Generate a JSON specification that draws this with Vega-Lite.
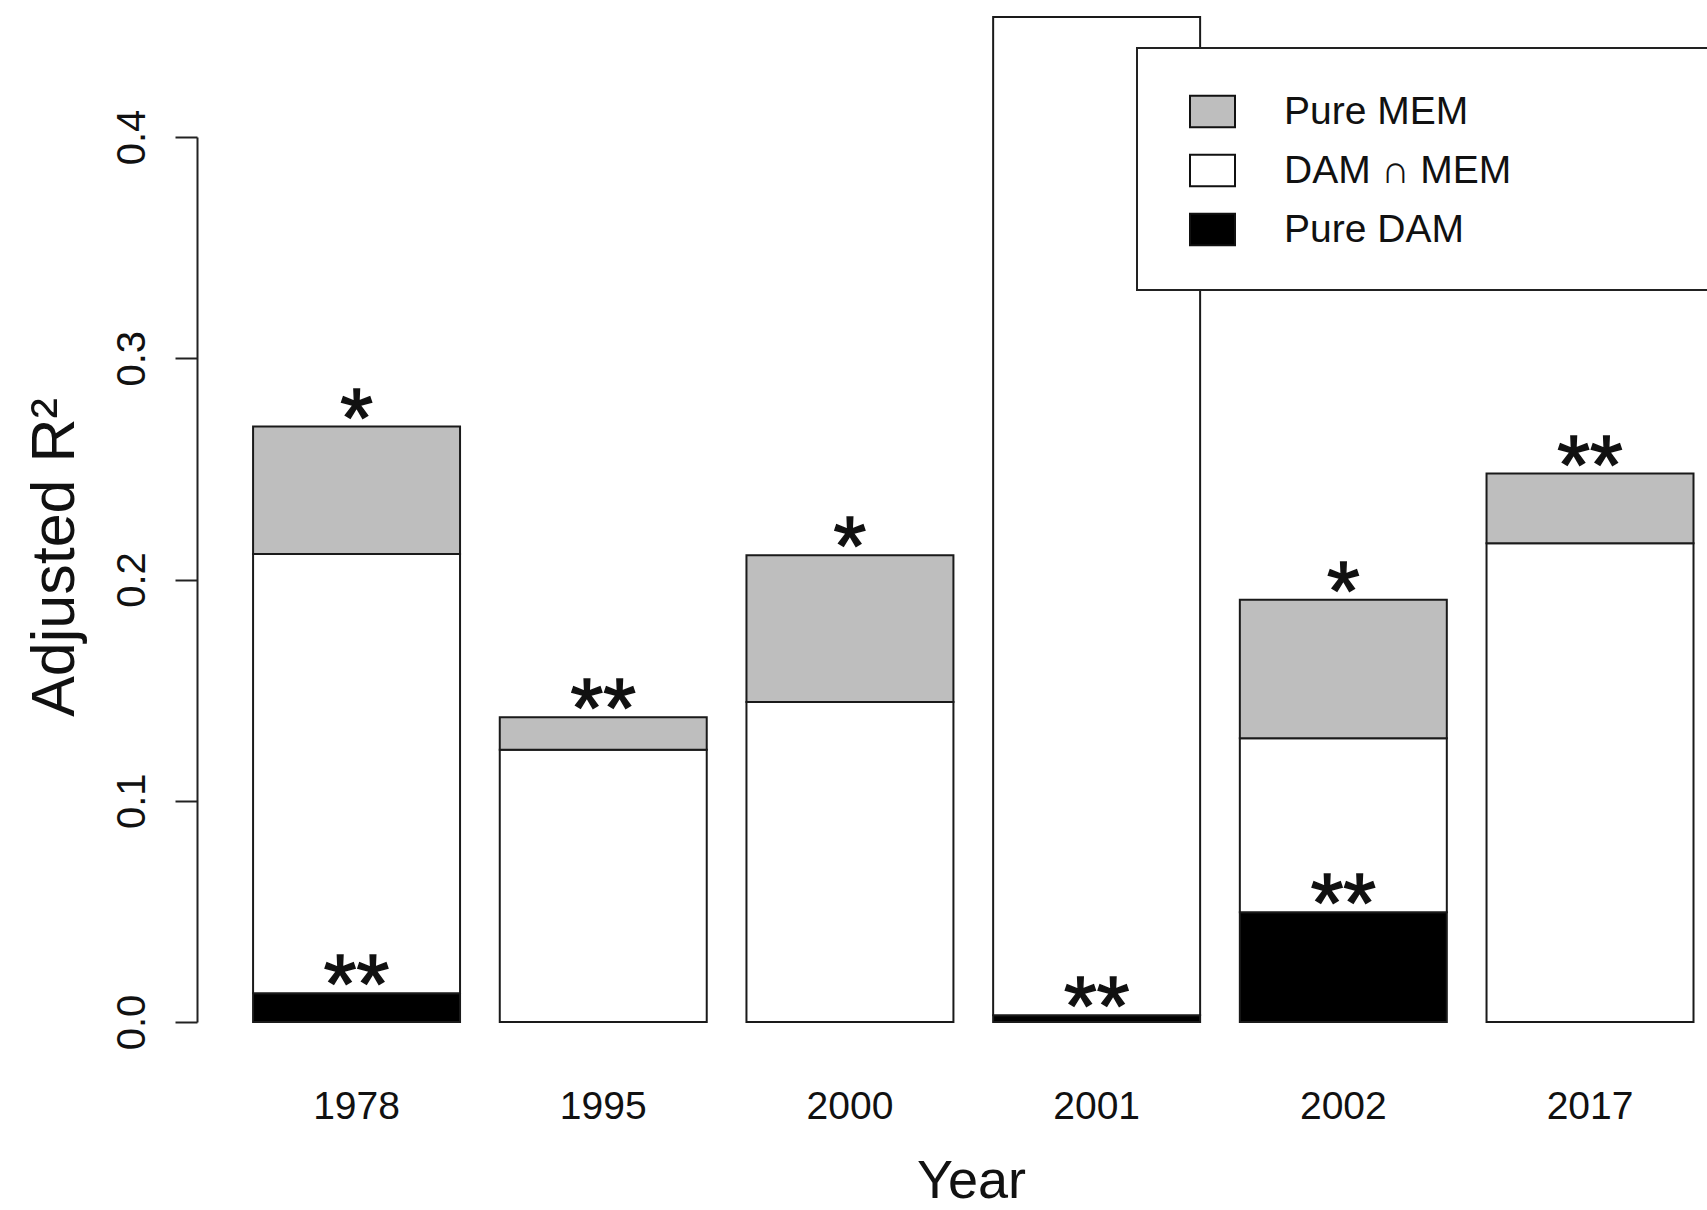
{
  "$schema": "https://vega.github.io/schema/vega-lite/v6.json",
  "width": 1510,
  "height": 885,
  "autosize": {"type": "none"},
  "padding": {"left": 197, "top": 137, "right": 0, "bottom": 188},
  "background": "white",
  "config": {
    "view": {"stroke": null},
    "font": "Liberation Sans",
    "legend": {"strokeWidth": 2},
    "axis": {"grid": false, "labelFont": "Liberation Sans", "titleFont": "Liberation Sans", "labelColor": "#111", "titleColor": "#111", "titleFontWeight": "normal"},
    "axisY": {
      "domainColor": "#222", "domainWidth": 2, "tickColor": "#222", "tickWidth": 2, "tickSize": 22,
      "labelFontSize": 40, "labelAngle": -90, "labelAlign": "center", "labelBaseline": "alphabetic", "labelPadding": 31,
      "titleFontSize": 61, "titleAngle": -90, "titleAlign": "center", "titleBaseline": "alphabetic", "titleX": -124, "titleY": 420
    },
    "axisX": {
      "domain": false, "ticks": false, "labelAngle": 0, "labelFontSize": 39, "labelBaseline": "alphabetic", "labelPadding": 96,
      "titleFontSize": 54, "titleAlign": "center", "titleBaseline": "alphabetic", "titleX": 774, "titleY": 175
    }
  },
  "datasets": {
    "parts": [
      {"year": "1978", "part": "Pure DAM", "r2": 0.013},
      {"year": "1978", "part": "DAM ∩ MEM", "r2": 0.1985},
      {"year": "1978", "part": "Pure MEM", "r2": 0.0576},
      {"year": "1995", "part": "Pure DAM", "r2": 0.0},
      {"year": "1995", "part": "DAM ∩ MEM", "r2": 0.123},
      {"year": "1995", "part": "Pure MEM", "r2": 0.0147},
      {"year": "2000", "part": "Pure DAM", "r2": 0.0},
      {"year": "2000", "part": "DAM ∩ MEM", "r2": 0.1446},
      {"year": "2000", "part": "Pure MEM", "r2": 0.0664},
      {"year": "2001", "part": "Pure DAM", "r2": 0.003},
      {"year": "2001", "part": "DAM ∩ MEM", "r2": 0.4512},
      {"year": "2001", "part": "Pure MEM", "r2": 0.0},
      {"year": "2002", "part": "Pure DAM", "r2": 0.0496},
      {"year": "2002", "part": "DAM ∩ MEM", "r2": 0.0787},
      {"year": "2002", "part": "Pure MEM", "r2": 0.0625},
      {"year": "2017", "part": "Pure DAM", "r2": 0.0},
      {"year": "2017", "part": "DAM ∩ MEM", "r2": 0.2164},
      {"year": "2017", "part": "Pure MEM", "r2": 0.0315}
    ],
    "signif": [
      {"year": "1978", "level": 0.2691, "stars": "*"},
      {"year": "1978", "level": 0.013, "stars": "**"},
      {"year": "1995", "level": 0.1377, "stars": "**"},
      {"year": "2000", "level": 0.211, "stars": "*"},
      {"year": "2001", "level": 0.003, "stars": "**"},
      {"year": "2002", "level": 0.1908, "stars": "*"},
      {"year": "2002", "level": 0.0496, "stars": "**"},
      {"year": "2017", "level": 0.2479, "stars": "**"}
    ]
  },
  "layer": [
    {
      "data": {"name": "parts"},
      "transform": [
        {"calculate": "indexof(['Pure DAM', 'DAM ∩ MEM', 'Pure MEM'], datum.part)", "as": "stackRank"}
      ],
      "mark": {"type": "bar", "stroke": "#1a1a1a", "strokeWidth": 2},
      "encoding": {
        "x": {
          "field": "year", "type": "nominal", "title": "Year",
          "scale": {"paddingInner": 0.161, "paddingOuter": 0.141, "align": 0.806}
        },
        "y": {
          "field": "r2", "type": "quantitative", "stack": "zero", "title": "Adjusted R²",
          "scale": {"domain": [0, 0.4], "nice": false, "zero": true},
          "axis": {"values": [0, 0.1, 0.2, 0.3, 0.4], "format": ".1f"}
        },
        "fill": {
          "field": "part", "type": "nominal",
          "scale": {"domain": ["Pure MEM", "DAM ∩ MEM", "Pure DAM"], "range": ["#bebebe", "#ffffff", "#000000"]},
          "legend": {
            "title": "\u00a0",
            "titleOrient": "right",
            "titlePadding": 260,
            "titleFontSize": 10,
            "orient": "none",
            "legendX": 940,
            "legendY": -89,
            "padding": 40,
            "strokeColor": "#222",
            "fillColor": "white",
            "symbolType": "M-1,-0.7H1V0.7H-1Z",
            "symbolSize": 2025,
            "symbolStrokeColor": "#111",
            "symbolStrokeWidth": 2,
            "symbolOffset": 12,
            "labelFont": "Liberation Sans",
            "labelFontSize": 39,
            "labelColor": "#111",
            "labelOffset": 48,
            "labelLimit": 0,
            "rowPadding": 15
          }
        },
        "order": {"field": "stackRank", "type": "quantitative", "sort": "ascending"}
      }
    },
    {
      "data": {"name": "signif"},
      "mark": {"type": "text", "fontSize": 84, "font": "Liberation Sans", "align": "center", "baseline": "alphabetic", "dy": 20, "color": "#111", "stroke": "#111", "strokeWidth": 1.5},
      "encoding": {
        "x": {"field": "year", "type": "nominal", "title": "Year"},
        "y": {"field": "level", "type": "quantitative", "title": "Adjusted R²"},
        "text": {"field": "stars"}
      }
    }
  ]
}
